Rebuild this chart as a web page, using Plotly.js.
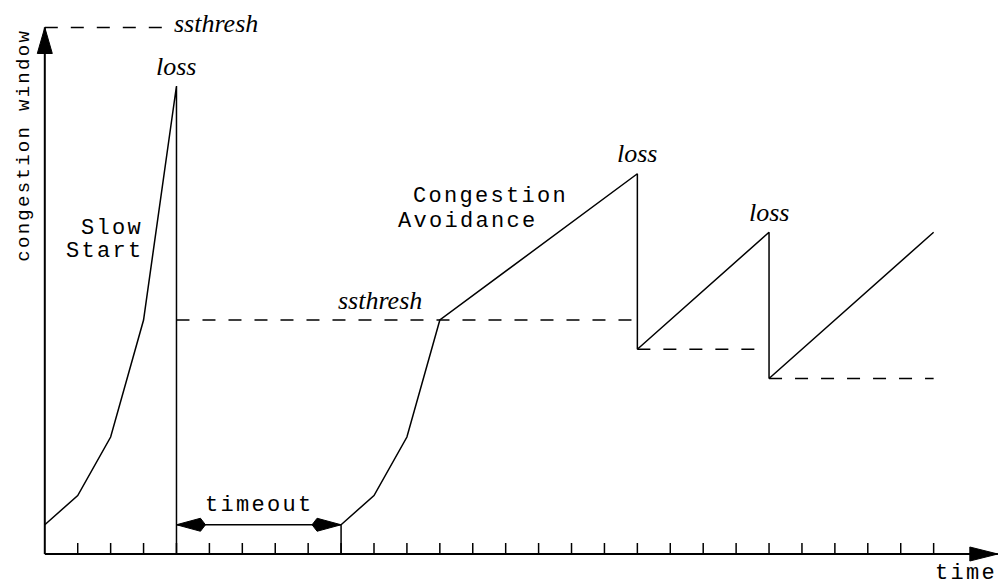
<!DOCTYPE html>
<html>
<head>
<meta charset="utf-8">
<script src="https://cdn.plot.ly/plotly-3.0.1.min.js"></script>
<style>
html,body{margin:0;padding:0;background:#fff;}
#chart{width:1000px;height:586px;}
text[style*="Mono"]{letter-spacing:2.3px;}
</style>
</head>
<body>
<div id="chart"></div>
<script>
// ---- data (time in RTT ticks, congestion window in segments) ----
const slowStartT = [0, 1, 2, 3, 4, 4];
const slowStartW = [1, 2, 4, 8, 16, 0];
const recoveryT  = [9, 9, 10, 11, 12, 18, 18, 22, 22, 27];
const recoveryW  = [0, 1, 2, 4, 8, 13, 7, 11, 6, 11];
const threshStart = [0, 4, 18, 22];
const threshEnd   = [3.6, 18, 21.6, 27];
const threshLevel = [18, 8, 7, 6];
const timeoutFrom = 4, timeoutTo = 9, timeoutLevel = 1;
const tickVals = [1,2,3,4,5,6,7,8,9,10,11,12,13,14,15,16,17,18,19,20,21,22,23,24,25,26,27];
const xAxisEnd = 28.95, yAxisEnd = 18;
const lossT = [4, 18, 22];
const lossW = [16, 13, 11];

// ---- styling helpers ----
const black = '#000';
const serif = 'Liberation Serif, Times New Roman, serif';
const mono = 'Liberation Mono, Courier New, monospace';
const tickLen = 0.376;           // in window units
const pxT = 32.92, pxW = 29.25;  // px per unit (used only for arrow head sizes)

const traces = [];
function line(x, y, width, dash) {
  traces.push({type:'scatter', mode:'lines', x:x, y:y, hoverinfo:'skip',
    line:{color:black, width:width, dash:dash || 'solid'}});
}
function poly(x, y) {
  traces.push({type:'scatter', mode:'lines', x:x, y:y, fill:'toself', fillcolor:black,
    hoverinfo:'skip', line:{color:black, width:1}});
}

// axes
line([0, xAxisEnd], [0, 0], 2);
line([0, 0], [0, yAxisEnd], 2);
// ticks
const tx = [], ty = [];
tickVals.forEach(v => { tx.push(v, v, null); ty.push(0, tickLen, null); });
line(tx, ty, 1.5);
// axis arrow heads
const aL = 28 / pxT, aH = 7 / pxW;
poly([xAxisEnd, xAxisEnd - aL, xAxisEnd - aL, xAxisEnd], [0, aH, -aH, 0]);
const bL = 26 / pxW, bH = 7.5 / pxT;
poly([0, -bH, bH, 0], [yAxisEnd, yAxisEnd - bL, yAxisEnd - bL, yAxisEnd]);

// ssthresh dashed lines
threshStart.forEach((s, i) => line([s, threshEnd[i]], [threshLevel[i], threshLevel[i]], 1.5, '13px,13px'));

// congestion window
line(slowStartT, slowStartW, 1.5);
line(recoveryT, recoveryW, 1.5);

// timeout double arrow
line([timeoutFrom, timeoutTo], [timeoutLevel, timeoutLevel], 1.5);
const kL = 29 / pxT, kM = 24 / pxT, kH = 6.5 / pxW;
poly([timeoutFrom, timeoutFrom + kM, timeoutFrom + kL, timeoutFrom + kM, timeoutFrom],
     [timeoutLevel, timeoutLevel + kH, timeoutLevel, timeoutLevel - kH, timeoutLevel]);
poly([timeoutTo, timeoutTo - kM, timeoutTo - kL, timeoutTo - kM, timeoutTo],
     [timeoutLevel, timeoutLevel + kH, timeoutLevel, timeoutLevel - kH, timeoutLevel]);

// ---- annotations ----
function ann(text, x, y, family, size, xanchor, extra) {
  return Object.assign({text:text, x:x, y:y, xref:'x', yref:'y', showarrow:false,
    xanchor:xanchor || 'center', yanchor:'middle', font:{family:family, size:size, color:black}}, extra || {});
}
const annotations = [
  ann('<i>ssthresh</i>', 5.19, 18.15, serif, 26),
  ann('<i>ssthresh</i>', 10.17, 8.65, serif, 26),
  ann('Slow', 3.05, 11.14, mono, 22, 'right'),
  ann('Start', 3.08, 10.33, mono, 22, 'right'),
  ann('Congestion', 11.13, 12.21, mono, 22, 'left'),
  ann('Avoidance', 10.67, 11.38, mono, 22, 'left'),
  ann('timeout', 6.51, 1.65, mono, 22),
  ann('time', 28.99, -0.68, mono, 22, 'right'),
  ann('congestion window', -0.62, 13.97, mono, 19, 'center', {textangle:-90})
];
const lossOffset = [0.65, 0.68, 0.66];
lossT.forEach((t, i) => annotations.push(ann('<i>loss</i>', t, lossW[i] + lossOffset[i], serif, 26)));

const layout = {
  width:1000, height:586,
  margin:{l:0, r:0, t:0, b:0, pad:0},
  paper_bgcolor:'#fff', plot_bgcolor:'#fff',
  showlegend:false,
  xaxis:{range:[-44.8/pxT, (1000-44.8)/pxT], visible:false, fixedrange:true},
  yaxis:{range:[-32/pxW, 554/pxW], visible:false, fixedrange:true},
  annotations:annotations
};
Plotly.newPlot('chart', traces, layout, {displayModeBar:false, staticPlot:true});
</script>
</body>
</html>
